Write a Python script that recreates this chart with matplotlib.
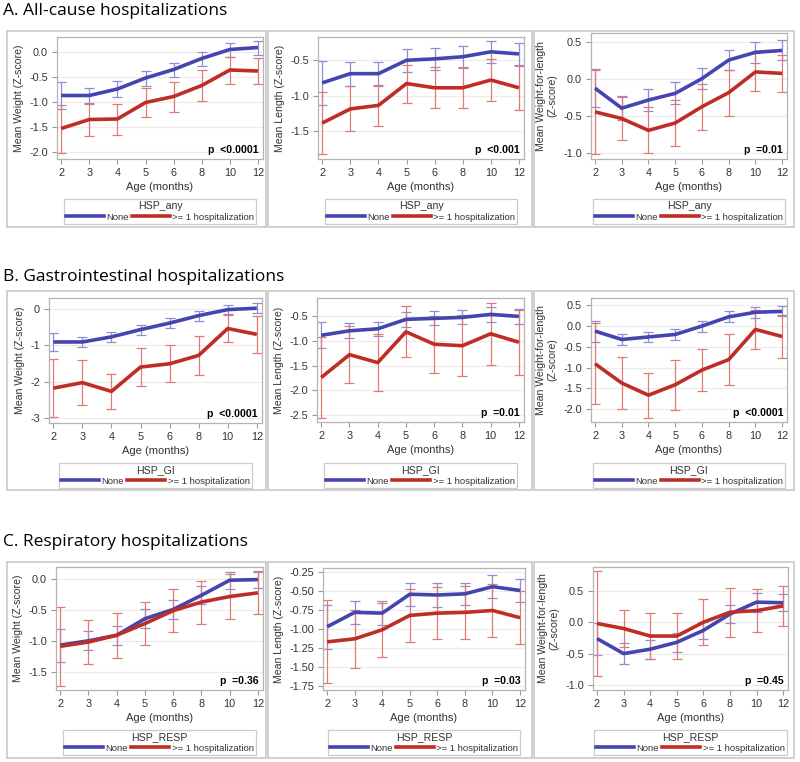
import numpy as np
import matplotlib
matplotlib.use('agg')
import matplotlib.pyplot as plt
from matplotlib.patches import Rectangle
from matplotlib.lines import Line2D

W, H = 800, 762
plt.rcParams['font.family'] = ['Liberation Sans', 'DejaVu Sans']
plt.rcParams['axes.unicode_minus'] = False

ages = ['2', '3', '4', '5', '6', '8', '10', '12']

# A. all-cause hospitalizations
a_wt_none = [-0.87, -0.87, -0.74, -0.52, -0.35, -0.13, 0.05, 0.09]
a_wt_none_err = [0.27, 0.15, 0.16, 0.15, 0.14, 0.14, 0.14, 0.14]
a_wt_hosp = [-1.53, -1.35, -1.34, -1.01, -0.89, -0.67, -0.36, -0.38]
a_wt_hosp_err = [0.48, 0.32, 0.31, 0.29, 0.30, 0.31, 0.27, 0.26]

a_len_none = [-0.82, -0.69, -0.69, -0.50, -0.48, -0.45, -0.38, -0.41]
a_len_none_err = [0.31, 0.17, 0.17, 0.16, 0.155, 0.155, 0.16, 0.16]
a_len_hosp = [-1.39, -1.19, -1.14, -0.83, -0.89, -0.89, -0.78, -0.89]
a_len_hosp_err = [0.44, 0.32, 0.29, 0.27, 0.29, 0.29, 0.30, 0.31]

a_wfl_none = [-0.12, -0.39, -0.28, -0.19, 0.01, 0.26, 0.365, 0.39]
a_wfl_none_err = [0.26, 0.16, 0.15, 0.15, 0.145, 0.14, 0.145, 0.135]
a_wfl_hosp = [-0.44, -0.53, -0.69, -0.59, -0.37, -0.18, 0.10, 0.08]
a_wfl_hosp_err = [0.57, 0.29, 0.31, 0.31, 0.31, 0.31, 0.26, 0.25]

# B. gastrointestinal hospitalizations
b_wt_none = [-0.91, -0.91, -0.77, -0.57, -0.39, -0.185, -0.02, 0.02]
b_wt_none_err = [0.24, 0.13, 0.14, 0.14, 0.14, 0.14, 0.13, 0.14]
b_wt_hosp = [-2.18, -2.03, -2.27, -1.60, -1.51, -1.28, -0.54, -0.70]
b_wt_hosp_err = [0.80, 0.62, 0.49, 0.52, 0.51, 0.54, 0.37, 0.50]

b_len_none = [-0.89, -0.80, -0.76, -0.57, -0.55, -0.53, -0.47, -0.51]
b_len_none_err = [0.26, 0.15, 0.145, 0.145, 0.14, 0.14, 0.145, 0.15]
b_len_hosp = [-1.74, -1.28, -1.44, -0.82, -1.07, -1.10, -0.86, -1.03]
b_len_hosp_err = [0.82, 0.58, 0.58, 0.51, 0.57, 0.61, 0.62, 0.65]

b_wfl_none = [-0.13, -0.33, -0.27, -0.21, -0.01, 0.21, 0.32, 0.34]
b_wfl_none_err = [0.25, 0.12, 0.13, 0.13, 0.13, 0.13, 0.13, 0.12]
b_wfl_hosp = [-0.91, -1.37, -1.66, -1.41, -1.06, -0.81, -0.09, -0.26]
b_wfl_hosp_err = [0.97, 0.61, 0.54, 0.60, 0.51, 0.61, 0.47, 0.51]

# C. respiratory hospitalizations
c_wt_none = [-1.07, -1.00, -0.91, -0.64, -0.49, -0.26, -0.015, -0.005]
c_wt_none_err = [0.27, 0.155, 0.155, 0.15, 0.15, 0.145, 0.135, 0.135]
c_wt_hosp = [-1.09, -1.02, -0.91, -0.72, -0.51, -0.37, -0.28, -0.22]
c_wt_hosp_err = [0.64, 0.36, 0.37, 0.355, 0.355, 0.35, 0.37, 0.345]

c_len_none = [-0.97, -0.78, -0.79, -0.54, -0.55, -0.535, -0.44, -0.49]
c_len_none_err = [0.29, 0.155, 0.155, 0.15, 0.155, 0.15, 0.155, 0.15]
c_len_hosp = [-1.17, -1.13, -1.01, -0.82, -0.79, -0.78, -0.755, -0.85]
c_len_hosp_err = [0.55, 0.38, 0.36, 0.35, 0.34, 0.35, 0.355, 0.35]

c_wfl_none = [-0.26, -0.50, -0.43, -0.32, -0.13, 0.13, 0.32, 0.31]
c_wfl_none_err = [0.255, 0.165, 0.15, 0.15, 0.14, 0.15, 0.15, 0.135]
c_wfl_hosp = [-0.02, -0.10, -0.22, -0.22, 0.00, 0.16, 0.185, 0.26]
c_wfl_hosp_err = [0.83, 0.30, 0.36, 0.37, 0.37, 0.39, 0.34, 0.32]

section_titles = ['A. All-cause hospitalizations',
                  'B. Gastrointestinal hospitalizations',
                  'C. Respiratory hospitalizations']
legend_titles = ['HSP_any', 'HSP_GI', 'HSP_RESP']
series_labels = ['None', '>= 1 hospitalization']
ylabels = ['Mean Weight (Z-score)', 'Mean Length (Z-score)',
           'Mean Weight-for-length\n(Z-score)']
p_texts = [['p  <0.0001', 'p  <0.001', 'p  =0.01'],
           ['p  <0.0001', 'p  =0.01', 'p  <0.0001'],
           ['p  =0.36', 'p  =0.03', 'p  =0.45']]

panels = [
    [(a_wt_none, a_wt_none_err, a_wt_hosp, a_wt_hosp_err),
     (a_len_none, a_len_none_err, a_len_hosp, a_len_hosp_err),
     (a_wfl_none, a_wfl_none_err, a_wfl_hosp, a_wfl_hosp_err)],
    [(b_wt_none, b_wt_none_err, b_wt_hosp, b_wt_hosp_err),
     (b_len_none, b_len_none_err, b_len_hosp, b_len_hosp_err),
     (b_wfl_none, b_wfl_none_err, b_wfl_hosp, b_wfl_hosp_err)],
    [(c_wt_none, c_wt_none_err, c_wt_hosp, c_wt_hosp_err),
     (c_len_none, c_len_none_err, c_len_hosp, c_len_hosp_err),
     (c_wfl_none, c_wfl_none_err, c_wfl_hosp, c_wfl_hosp_err)],
]

yticks = [
    [[0.0, -0.5, -1.0, -1.5, -2.0], [-0.5, -1.0, -1.5], [0.5, 0.0, -0.5, -1.0]],
    [[0, -1, -2, -3], [-0.5, -1.0, -1.5, -2.0, -2.5], [0.5, 0.0, -0.5, -1.0, -1.5, -2.0]],
    [[0.0, -0.5, -1.0, -1.5], [-0.25, -0.5, -0.75, -1.0, -1.25, -1.5, -1.75], [0.5, 0.0, -0.5, -1.0]],
]
ytick_fmt = [['%.1f', '%.1f', '%.1f'], ['%d', '%.1f', '%.1f'], ['%.1f', '%.2f', '%.1f']]
ylims = [
    [(-2.14, 0.30), (-1.90, -0.17), (-1.077, 0.626)],
    [(-3.14, 0.30), (-2.635, -0.14), (-2.30, 0.66)],
    [(-1.80, 0.20), (-1.807, -0.193), (-1.08, 0.88)],
]

# layout in pixels (left, top, right, bottom)
axes_px = [
    [(57, 37, 263, 159), (318, 37, 524, 159), (591, 33, 787, 159)],
    [(49, 298, 262, 423), (317, 298, 524, 422), (591, 298, 787, 422)],
    [(56, 567, 263, 690), (323, 568, 525, 690), (593, 567, 788, 690)],
]
box_rows = [(31, 227), (291, 490), (562, 758)]
box_cols = [(7, 266), (268, 532), (534, 794)]
legend_tops = [199, 463, 730]
title_base = [15, 281, 546]

blue, red = '#4545B0', '#BF2E26'
blue_err, red_err = '#8A8FD8', '#E07A72'

fig = plt.figure(figsize=(W / 100, H / 100), dpi=100)

for r in range(3):
    fig.text(3 / W, 1 - title_base[r] / H, section_titles[r], fontsize=12.5,
             family='Open Sans', va='baseline', ha='left', color='black')
    for c in range(3):
        bl, bt = box_cols[c][0], box_rows[r][0]
        bw, bh = box_cols[c][1] - bl, box_rows[r][1] - bt
        fig.patches.append(Rectangle((bl / W, 1 - (bt + bh) / H), bw / W, bh / H,
                                     transform=fig.transFigure, fill=False,
                                     edgecolor='#C8C8C8', lw=1.2))

        l, t, rr, b = axes_px[r][c]
        ax = fig.add_axes([l / W, 1 - b / H, (rr - l) / W, (b - t) / H])
        none, none_err, hosp, hosp_err = panels[r][c]
        x = np.arange(len(ages))

        ax.errorbar(x, none, yerr=none_err, fmt='none', ecolor=blue_err,
                    elinewidth=0.9, capsize=3.5, capthick=0.9, zorder=2)
        ax.errorbar(x, hosp, yerr=hosp_err, fmt='none', ecolor=red_err,
                    elinewidth=0.9, capsize=3.5, capthick=0.9, zorder=2)
        ax.plot(x, none, color=blue, lw=2.6, zorder=3, solid_capstyle='butt')
        ax.plot(x, hosp, color=red, lw=2.6, zorder=4, solid_capstyle='butt')

        ax.set_xlim(-0.15, 7.18)
        ax.set_ylim(*ylims[r][c])
        ax.set_xticks(x)
        ax.set_xticklabels(ages)
        ax.set_yticks(yticks[r][c])
        ax.set_yticklabels([ytick_fmt[r][c] % v for v in yticks[r][c]])
        ax.yaxis.grid(True, color='#ECECEC', lw=0.8, zorder=0)
        ax.set_axisbelow(True)
        for s in ax.spines.values():
            s.set_color('#B4B4B4')
            s.set_linewidth(0.9)
        ax.tick_params(colors='#9A9A9A', labelcolor='#333333', labelsize=7.8,
                       length=3.5, width=0.8, pad=3)
        ax.set_xlabel('Age (months)', fontsize=8, color='#333333', labelpad=3)
        ax.set_ylabel(ylabels[c], fontsize=7.6, color='#333333', labelpad=4,
                      linespacing=1.2)
        ax.text(0.98, 0.035, p_texts[r][c], transform=ax.transAxes, ha='right',
                va='bottom', fontsize=7.6, fontweight='bold', color='black')

        handles = [Line2D([], [], color=blue, lw=2.6),
                   Line2D([], [], color=red, lw=2.6)]
        leg = ax.legend(handles, series_labels, title=legend_titles[r],
                        loc='upper center', ncol=2,
                        bbox_to_anchor=((l + rr) / 2 / W, 1 - legend_tops[r] / H),
                        bbox_transform=fig.transFigure, fontsize=6.8,
                        title_fontsize=7.6, frameon=True, fancybox=False,
                        edgecolor='#C0C0C0', handlelength=4.0, handletextpad=0.25,
                        columnspacing=0.35, borderpad=0.25, labelspacing=0.2,
                        borderaxespad=0)
        leg.get_frame().set_linewidth(0.9)
        leg._legend_box.sep = 1
        leg.get_title().set_color('#333333')
        for txt in leg.get_texts():
            txt.set_color('#333333')

fig.savefig('out.png', dpi=100)
